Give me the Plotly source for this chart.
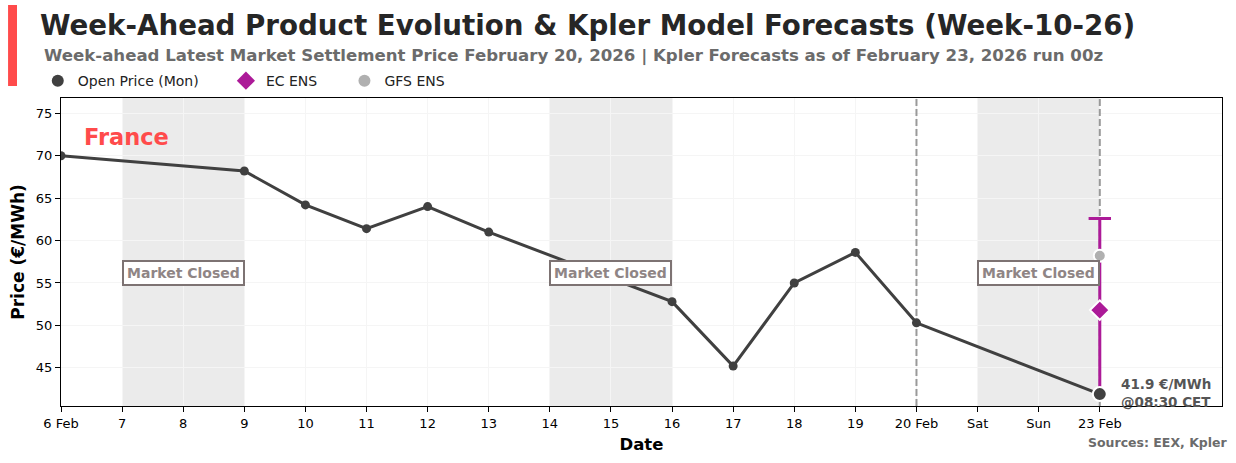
import plotly.graph_objects as go

# ---- data ----
open_dates = ["2026-02-06", "2026-02-09", "2026-02-10", "2026-02-11", "2026-02-12",
              "2026-02-13", "2026-02-16", "2026-02-17", "2026-02-18", "2026-02-19",
              "2026-02-20", "2026-02-23"]
open_prices = [70.0, 68.2, 64.2, 61.4, 64.0, 61.0, 52.8, 45.2, 55.0, 58.6, 50.3, 41.9]

forecast_date = "2026-02-23"
ec_mean = 51.8
ec_low = 41.9
ec_high = 62.6
gfs_mean = 58.2

closed_periods = [("2026-02-07", "2026-02-09"), ("2026-02-14", "2026-02-16"), ("2026-02-21", "2026-02-23")]
closed_label_dates = ["2026-02-08", "2026-02-15", "2026-02-22"]
closed_label_y = 56.2

tick_dates = ["2026-02-%02d" % d for d in range(6, 24)]
tick_labels = ["6 Feb", "7", "8", "9", "10", "11", "12", "13", "14", "15", "16", "17",
               "18", "19", "20 Feb", "Sat", "Sun", "23 Feb"]
vlines = ["2026-02-20", "2026-02-23"]
y_range = [40.5, 76.8]
x_range = ["2026-02-06", "2026-02-25"]
y_ticks = [45, 50, 55, 60, 65, 70, 75]

DARK = "#404040"
PURPLE = "#AC1A98"
LGRAY = "#B0B0B0"
RED = "#FF4B4B"
FONT = "DejaVu Sans"
NB = "\u00a0"

fig = go.Figure()

# reference dashed verticals (drawn as traces so they sit above the grid)
for v in vlines:
    fig.add_trace(go.Scatter(x=[v, v], y=y_range, mode="lines",
                             line=dict(color="#999999", width=2, dash="7px,3px"),
                             showlegend=False, hoverinfo="skip"))

# main line
fig.add_trace(go.Scatter(
    x=open_dates[:-1], y=open_prices[:-1], mode="lines+markers",
    line=dict(color=DARK, width=3), marker=dict(size=9, color=DARK),
    showlegend=False, hoverinfo="x+y"))
fig.add_trace(go.Scatter(
    x=open_dates[-2:], y=open_prices[-2:], mode="lines",
    line=dict(color=DARK, width=3), showlegend=False))

# EC range
fig.add_trace(go.Scatter(
    x=[forecast_date, forecast_date], y=[ec_low, ec_high], mode="lines",
    line=dict(color=PURPLE, width=3), showlegend=False))
fig.add_trace(go.Scatter(
    x=[forecast_date], y=[ec_high], mode="markers",
    marker=dict(symbol="line-ew", size=16, line=dict(color=PURPLE, width=3)),
    showlegend=False))
# GFS
fig.add_trace(go.Scatter(
    x=[forecast_date], y=[gfs_mean], mode="markers",
    marker=dict(symbol="circle", size=12, color=LGRAY, line=dict(color="white", width=2)),
    showlegend=False))
# EC mean
fig.add_trace(go.Scatter(
    x=[forecast_date], y=[ec_mean], mode="markers",
    marker=dict(symbol="diamond", size=15, color=PURPLE, line=dict(color="white", width=2)),
    showlegend=False))
# last open point
fig.add_trace(go.Scatter(
    x=[open_dates[-1]], y=[open_prices[-1]], mode="markers",
    marker=dict(symbol="circle", size=14, color=DARK, line=dict(color="white", width=2)),
    showlegend=False))

# legend-only entries
fig.add_trace(go.Scatter(x=[None], y=[None], mode="markers", name="Open Price (Mon)" + NB * 5,
                         marker=dict(symbol="circle", size=12, color=DARK)))
fig.add_trace(go.Scatter(x=[None], y=[None], mode="markers", name="EC ENS" + NB * 5,
                         marker=dict(symbol="diamond", size=14, color=PURPLE)))
fig.add_trace(go.Scatter(x=[None], y=[None], mode="markers", name="GFS ENS",
                         marker=dict(symbol="circle", size=12, color=LGRAY)))

shapes = []
for x0, x1 in closed_periods:
    shapes.append(dict(type="rect", xref="x", yref="paper", x0=x0, x1=x1, y0=0, y1=1,
                       fillcolor="#EBEBEB", line=dict(width=0), layer="below"))
# red accent bar
shapes.append(dict(type="rect", xref="paper", yref="paper", x0=-0.0456, x1=-0.0379,
                   y0=1.039, y1=1.302, fillcolor=RED, line=dict(width=0)))

annotations = []
for d in closed_label_dates:
    annotations.append(dict(x=d, y=closed_label_y, xref="x", yref="y", text="<b>Market Closed</b>",
                            showarrow=False, font=dict(family=FONT, size=14, color="#8F8585"),
                            bgcolor="white", bordercolor="#7D7373", borderwidth=2, borderpad=3))
annotations += [
    dict(x=-0.0195, y=1.237, xref="paper", yref="paper", xanchor="left", yanchor="middle",
         text="<b>Week-Ahead Product Evolution &amp; Kpler Model Forecasts (Week-10-26)</b>",
         showarrow=False, font=dict(family=FONT, size=27.7, color="#262626")),
    dict(x=-0.0165, y=1.136, xref="paper", yref="paper", xanchor="left", yanchor="middle",
         text="<b>Week-ahead Latest Market Settlement Price February 20, 2026 | Kpler Forecasts as of February 23, 2026 run 00z</b>",
         showarrow=False, font=dict(family=FONT, size=16.6, color="#6B6B6B")),
    dict(x=0.018, y=0.873, xref="paper", yref="paper", xanchor="left", yanchor="middle",
         text="<b>France</b>", showarrow=False, font=dict(family=FONT, size=22.5, color=RED)),
    dict(x=0.911, y=0.042, xref="paper", yref="paper", xanchor="left", yanchor="middle",
         text="<b>41.9 €/MWh<br>@08:30 CET</b>", align="left", showarrow=False,
         font=dict(family=FONT, size=13.5, color="#555555")),
    dict(x=1.0065, y=-0.117, xref="paper", yref="paper", xanchor="right", yanchor="middle",
         text="<b>Sources: EEX, Kpler</b>", showarrow=False,
         font=dict(family=FONT, size=12.5, color="#6B6B6B")),
]

fig.update_layout(
    width=1236, height=463,
    margin=dict(l=61, r=14, t=98, b=57, autoexpand=False),
    plot_bgcolor="white", paper_bgcolor="white",
    font=dict(family=FONT, size=13, color="black"),
    shapes=shapes, annotations=annotations,
    legend=dict(orientation="h", x=-0.02, y=1.055, xanchor="left", yanchor="middle",
                font=dict(family=FONT, size=14, color="#222222"), bgcolor="rgba(0,0,0,0)"),
    xaxis=dict(type="date", range=x_range,
               tickmode="array", tickvals=tick_dates, ticktext=tick_labels,
               showline=True, linecolor="black", linewidth=1.2, mirror=True,
               ticks="outside", ticklen=5, tickcolor="black",
               showgrid=True, gridcolor="#F5F5F5", zeroline=False,
               title=dict(text="<b>Date</b>", font=dict(family=FONT, size=16.5), standoff=8),
               tickfont=dict(family=FONT, size=13)),
    yaxis=dict(range=y_range, tickmode="array", tickvals=y_ticks,
               showline=True, linecolor="black", linewidth=1.2, mirror=True,
               ticks="outside", ticklen=5, tickcolor="black",
               showgrid=True, gridcolor="#F5F5F5", zeroline=False,
               title=dict(text="<b>Price (€/MWh)</b>", font=dict(family=FONT, size=17), standoff=6),
               tickfont=dict(family=FONT, size=13)),
)

fig.write_html("out.html", config={"displayModeBar": False},
               post_script="document.body.style.margin='0px';document.body.style.overflow='hidden';")
